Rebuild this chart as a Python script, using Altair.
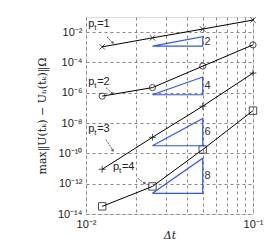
import altair as alt
import pandas as pd

dt = [0.0125, 0.025, 0.05, 0.1]
err_p1 = [1.07e-3, 4.2e-3, 1.6e-2, 6.3e-2]
err_p2 = [6.0e-7, 2.2e-6, 5.7e-5, 1.45e-3]
err_p3 = [8.9e-12, 1.15e-9, 1.3e-7, 2.0e-5]
err_p4 = [3.2e-14, 6.6e-13, 1.8e-10, 6.6e-8]
series_names = ["p1", "p2", "p3", "p4"]

# slope triangles (x from 0.025 to 0.05)
tri_x = [0.025, 0.05]
tri_bottom = [1.2e-3, 7.4e-7, 3.2e-10, 2.3e-13]
tri_top = [5.0e-3, 1.1e-5, 2.0e-8, 4.8e-11]
tri_labels = ["2", "4", "6", "8"]
tri_label_y = [2.3e-3, 2.9e-6, 2.7e-9, 3.0e-12]

# p_t labels
lab_x = [0.0103, 0.0103, 0.0103, 0.0145]
lab_y = [3.4e-2, 5.2e-6, 4.3e-9, 1.35e-11]
lab_num = ["=1", "=2", "=3", "=4"]

# arrows
arr_x1 = [0.01336, 0.01318, 0.01318, 0.0205]
arr_x2 = [0.01452, 0.01451, 0.01451, 0.02254]
arr_y1 = [10**-2.32, 10**-5.67, 10**-9.09, 10**-11.66]
arr_y2 = [10**-2.71, 10**-6.07, 10**-9.82, 10**-11.99]

y_ticks = [1e-14, 1e-12, 1e-10, 1e-8, 1e-6, 1e-4, 1e-2]
x_ticks = [0.01, 0.02, 0.03, 0.04, 0.05, 0.06, 0.07, 0.08, 0.09, 0.1]

rows = []
for name, vals in zip(series_names, [err_p1, err_p2, err_p3, err_p4]):
    for x, y in zip(dt, vals):
        rows.append({"s": name, "dt": x, "err": y})
df = pd.DataFrame(rows)

tri_rows = []
for i in range(4):
    pts = [(tri_x[0], tri_bottom[i]), (tri_x[1], tri_top[i]), (tri_x[1], tri_bottom[i]), (tri_x[0], tri_bottom[i])]
    for k, (x, y) in enumerate(pts):
        tri_rows.append({"t": i, "o": k, "x": x, "y": y})
tri_df = pd.DataFrame(tri_rows)
tri_lab_df = pd.DataFrame({"x": [0.0505] * 4, "y": tri_label_y, "l": tri_labels})
lab_df = pd.DataFrame({"x": lab_x, "y": lab_y, "n": lab_num})
arr_df = pd.DataFrame({"x1": arr_x1, "x2": arr_x2, "y1": arr_y1, "y2": arr_y2})

xsc = alt.Scale(type="log", domain=[0.01, 0.1], nice=False)
ysc = alt.Scale(type="log", domain=[1e-14, 1e-1], nice=False)

xaxis = alt.Axis(values=x_ticks, grid=True, gridDash=[3, 3], gridColor="#888", gridOpacity=1,
                 ticks=False, domain=False,
                 labelExpr="datum.value < 0.015 ? '10⁻²' : (datum.value > 0.095 ? '10⁻¹' : '')",
                 labelFont="Liberation Sans", labelFontSize=11, labelColor="#222", labelPadding=4,
                 title="Δt", titleFont="DejaVu Serif", titleFontStyle="italic", titleFontWeight="normal",
                 titleFontSize=11, titleColor="#222", titlePadding=0, labelFlush=False)
yaxis = alt.Axis(values=y_ticks, grid=True, gridDash=[3, 3], gridColor="#888", gridOpacity=1,
                 ticks=False, domain=False,
                 labelExpr="'10' + replace(replace(replace(replace(replace(replace(replace(toString(round(log(datum.value)/LN10)),'-','⁻'),'0','⁰'),'1','¹'),'2','²'),'4','⁴'),'6','⁶'),'8','⁸')",
                 labelFont="Liberation Sans", labelFontSize=11, labelColor="#222", labelPadding=4,
                 title="max‖U(tₖ) − Uₕ(tₖ)‖Ω", titleFont="DejaVu Serif", titleFontWeight="normal",
                 titleFontSize=11, titleColor="#222", titlePadding=10)

lines = alt.Chart(df).mark_line(color="black", strokeWidth=1).encode(
    x=alt.X("dt:Q", scale=xsc, axis=xaxis),
    y=alt.Y("err:Q", scale=ysc, axis=yaxis),
    detail="s:N",
)

pts = alt.Chart(df).mark_point(color="black", filled=False, strokeWidth=1).encode(
    x=alt.X("dt:Q", scale=xsc),
    y=alt.Y("err:Q", scale=ysc),
    shape=alt.Shape("s:N", scale=alt.Scale(domain=series_names,
                                             range=["M-1,-1L1,1M-1,1L1,-1", "circle", "M-1,0L1,0M0,-1L0,1", "square"]),
                    legend=None),
    size=alt.Size("s:N", scale=alt.Scale(domain=series_names, range=[30, 55, 45, 40]), legend=None),
)

tris = alt.Chart(tri_df).mark_line(color="#2f55ff", strokeWidth=1.2).encode(
    x=alt.X("x:Q", scale=xsc), y=alt.Y("y:Q", scale=ysc), detail="t:N", order="o:Q")

tri_text = alt.Chart(tri_lab_df).mark_text(align="left", baseline="middle", font="Liberation Sans",
                                            fontSize=11, color="#333", dx=1).encode(
    x=alt.X("x:Q", scale=xsc), y=alt.Y("y:Q", scale=ysc), text="l:N")

p_text = alt.Chart(lab_df).mark_text(align="left", baseline="middle", font="Liberation Sans",
                                      fontSize=11, color="#222").encode(
    x=alt.X("x:Q", scale=xsc), y=alt.Y("y:Q", scale=ysc), text=alt.value("p"))
t_text = alt.Chart(lab_df).mark_text(align="left", baseline="middle", font="Liberation Sans",
                                      fontSize=8, color="#222", dx=6, dy=4).encode(
    x=alt.X("x:Q", scale=xsc), y=alt.Y("y:Q", scale=ysc), text=alt.value("t"))
n_text = alt.Chart(lab_df).mark_text(align="left", baseline="middle", font="Liberation Sans",
                                      fontSize=11, color="#222", dx=9).encode(
    x=alt.X("x:Q", scale=xsc), y=alt.Y("y:Q", scale=ysc), text="n:N")

arrows = alt.Chart(arr_df).mark_rule(color="#333", strokeWidth=0.8, strokeDash=[2, 1]).encode(
    x=alt.X("x1:Q", scale=xsc), x2="x2:Q", y=alt.Y("y1:Q", scale=ysc), y2="y2:Q")
heads = alt.Chart(arr_df).mark_point(shape="triangle-down", filled=True, color="#333", size=12,
                                      angle=315).encode(
    x=alt.X("x2:Q", scale=xsc), y=alt.Y("y2:Q", scale=ysc))

chart = alt.layer(lines, pts, tris, tri_text, arrows, heads, p_text, t_text, n_text).properties(
    width=167, height=197,
    autosize=alt.AutoSizeParams(type="none"),
    padding={"left": 78, "top": 9, "right": 19, "bottom": 26},
).configure_view(stroke="#777", strokeWidth=1.5).configure(background="white")

chart.save("out.html", embed_options={"renderer": "svg", "actions": False})
